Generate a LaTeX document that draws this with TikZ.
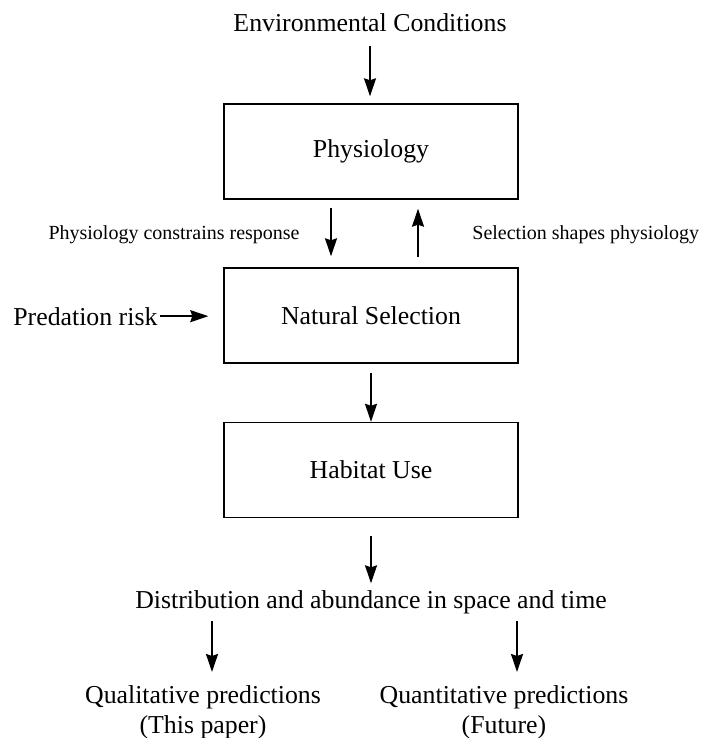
\documentclass[tikz,border=0pt]{standalone}
\usepackage{fontspec}
\setmainfont{Liberation Serif}
\usepackage{tikz}
\usetikzlibrary{arrows.meta}
\usetikzlibrary{shapes, positioning}

\begin{document}
\begin{tikzpicture}[x=0.5pt, y=-0.5pt,
    box/.style={draw, line width=0.7pt, minimum width=147pt, minimum height=47.5pt, inner sep=0pt, font=\fontsize{12.9}{15}\selectfont},
    big/.style={inner sep=0pt, font=\fontsize{12.9}{15}\selectfont},
    small/.style={inner sep=0pt, font=\fontsize{10}{12}\selectfont},
    arr/.style={line width=0.9pt, -{Stealth[length=9pt, width=6pt, inset=1pt]}}]
    \useasboundingbox (0,0) rectangle (704,738);
    \node[big, anchor=base] (env) at (370,32) {Environmental Conditions};
    \node[box] (phys) at (371,151.5) {Physiology};
    \node[small, anchor=base east] (cons) at (300,239) {Physiology constrains response};
    \node[small, anchor=base west] (shape) at (472,239) {Selection shapes physiology};
    \node[box] (nsel) at (371,315.5) {Natural Selection};
    \node[big, anchor=base west] (pred) at (13,325) {Predation risk};
    \node[box] (hab) at (371,470) {Habitat Use};
    \node[big, anchor=base] (dist) at (371,608) {Distribution and abundance in space and time};
    \node[big, anchor=north, align=center] (qual) at (203,685.4) {Qualitative predictions\\(This paper)};
    \node[big, anchor=north, align=center] (quant) at (504,685.4) {Quantitative predictions\\(Future)};
    \draw[arr, shorten <=6.5pt, shorten >=3.5pt] (env.south) -- (env.south |- phys.north);
    \draw[arr, shorten <=4pt, shorten >=5.5pt] ([xshift=-20pt]phys.south) -- ([xshift=-20pt]nsel.north);
    \draw[arr, shorten <=5pt, shorten >=4.5pt] ([xshift=23.5pt]nsel.north) -- ([xshift=23.5pt]phys.south);
    \draw[arr, shorten <=1pt, shorten >=7.5pt] (pred.east) -- (pred.east -| nsel.west);
    \draw[arr, shorten <=4.5pt] (nsel.south) -- (hab.north);
    \draw[arr, shorten <=9pt, shorten >=3.2pt] (hab.south) -- (dist.north);
    \draw[arr, shorten <=3.7pt, shorten >=6.7pt] ([xshift=4.5pt]qual.north |- dist.south) -- ([xshift=4.5pt]qual.north);
    \draw[arr, shorten <=3.7pt, shorten >=6.7pt] ([xshift=6.5pt]quant.north |- dist.south) -- ([xshift=6.5pt]quant.north);
\end{tikzpicture}
\end{document}
